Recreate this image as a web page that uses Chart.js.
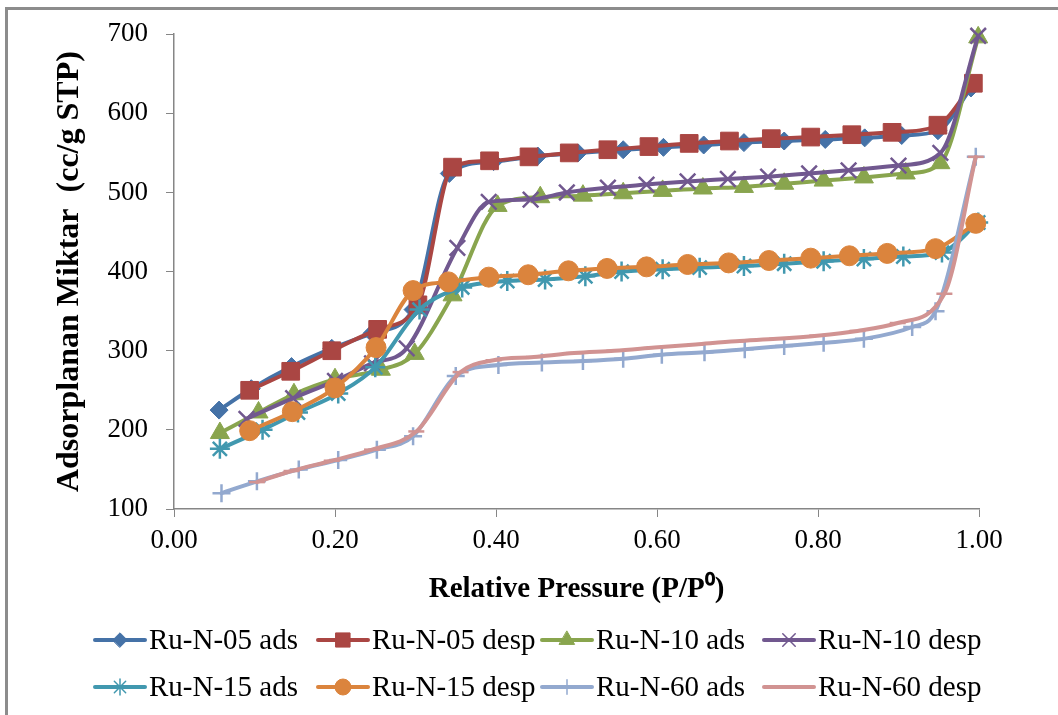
<!DOCTYPE html>
<html>
<head>
<meta charset="utf-8">
<title>Isotherms</title>
<script src="https://cdn.jsdelivr.net/npm/chart.js@4.4.0/dist/chart.umd.min.js"></script>
<style>
  html, body { margin: 0; padding: 0; background: #fff; }
  #wrap { position: relative; width: 1058px; height: 715px; overflow: hidden; }
  #frame { position: absolute; left: 5px; top: 7px; width: 1200px; height: 900px; border: 3px solid #8c8c8c; box-sizing: border-box; }
  #chart { position: absolute; left: 0; top: 0; }
</style>
</head>
<body>
<div id="wrap">
  <div id="frame"></div>
  <canvas id="chart" width="1058" height="715"></canvas>
</div>
<script>
// series values (x = P/P0, y = cc/g STP)
var x05ads = [0.056, 0.096, 0.146, 0.196, 0.246, 0.297, 0.342, 0.397, 0.452, 0.502, 0.558, 0.608, 0.658, 0.708, 0.758, 0.809, 0.858, 0.904, 0.949, 0.990];
var y05ads = [225, 252, 280, 303, 322, 352, 524, 539, 546, 550, 554, 557, 560, 563, 565, 567, 569, 572, 578, 632];
var x05desp = [0.094, 0.145, 0.196, 0.253, 0.303, 0.346, 0.392, 0.441, 0.491, 0.539, 0.590, 0.640, 0.690, 0.742, 0.791, 0.842, 0.892, 0.949, 0.993];
var y05desp = [250, 274, 300, 327, 358, 532, 540, 545, 550, 554, 558, 562, 565, 568, 570, 573, 576, 585, 638];
var x10ads = [0.057, 0.105, 0.149, 0.200, 0.257, 0.299, 0.346, 0.402, 0.455, 0.508, 0.558, 0.607, 0.657, 0.708, 0.758, 0.807, 0.857, 0.909, 0.952, 0.999];
var y10ads = [196, 222, 245, 264, 276, 296, 370, 483, 494, 496, 499, 502, 505, 507, 511, 515, 519, 524, 537, 696];
var x10desp = [0.090, 0.148, 0.200, 0.246, 0.289, 0.352, 0.391, 0.443, 0.488, 0.539, 0.587, 0.638, 0.688, 0.738, 0.789, 0.838, 0.900, 0.952, 0.999];
var y10desp = [214, 240, 262, 284, 303, 430, 488, 491, 500, 506, 510, 514, 517, 520, 524, 528, 534, 550, 698];
var x15ads = [0.057, 0.110, 0.154, 0.204, 0.250, 0.305, 0.358, 0.414, 0.461, 0.511, 0.556, 0.607, 0.653, 0.708, 0.758, 0.807, 0.857, 0.906, 0.954, 0.999];
var y15ads = [176, 200, 222, 246, 279, 352, 380, 388, 390, 394, 400, 403, 405, 407, 410, 413, 416, 419, 424, 462];
var x15desp = [0.094, 0.147, 0.200, 0.251, 0.297, 0.341, 0.391, 0.440, 0.490, 0.538, 0.587, 0.638, 0.689, 0.739, 0.791, 0.839, 0.886, 0.946, 0.996];
var y15desp = [199, 223, 253, 304, 376, 387, 393, 396, 401, 404, 406, 409, 411, 414, 417, 420, 423, 429, 461];
var x60ads = [0.059, 0.103, 0.155, 0.204, 0.252, 0.297, 0.350, 0.403, 0.457, 0.508, 0.558, 0.606, 0.659, 0.709, 0.758, 0.807, 0.857, 0.917, 0.946, 0.996];
var y60ads = [120, 135, 150, 162, 175, 192, 268, 282, 285, 287, 290, 295, 298, 302, 306, 310, 315, 330, 350, 545];
var x60desp = [0.103, 0.146, 0.196, 0.246, 0.301, 0.356, 0.397, 0.447, 0.497, 0.547, 0.597, 0.648, 0.698, 0.749, 0.799, 0.849, 0.899, 0.957, 0.996];
var y60desp = [134, 148, 161, 175, 198, 273, 288, 292, 297, 300, 304, 308, 312, 315, 319, 325, 335, 372, 545];

var names = ['Ru-N-05 ads', 'Ru-N-05 desp', 'Ru-N-10 ads', 'Ru-N-10 desp', 'Ru-N-15 ads', 'Ru-N-15 desp', 'Ru-N-60 ads', 'Ru-N-60 desp'];
var xs = [x05ads, x05desp, x10ads, x10desp, x15ads, x15desp, x60ads, x60desp];
var ys = [y05ads, y05desp, y10ads, y10desp, y15ads, y15desp, y60ads, y60desp];
var colors = ['#4572A7', '#AA4643', '#89A54E', '#71588F', '#4198AF', '#DB843D', '#93A9CF', '#D19392'];
var markers = ['rectRot', 'rect', 'triangle', 'crossRot', 'star', 'circle', 'cross', 'line'];
var radii = [9, 12.5, 11, 11, 10, 10, 9, 8];

var serif = "'Times New Roman', 'Liberation Serif', serif";

function points(xv, yv) {
  return xv.map(function(x, i) { return { x: x, y: yv[i] }; });
}

var datasets = names.map(function(name, i) {
  var stroked = ['crossRot', 'star', 'cross', 'line'].indexOf(markers[i]) >= 0;
  return {
    label: name,
    data: points(xs[i], ys[i]),
    showLine: true,
    borderColor: colors[i],
    backgroundColor: colors[i],
    borderWidth: 4,
    borderJoinStyle: 'round',
    borderCapStyle: 'round',
    cubicInterpolationMode: 'monotone',
    pointStyle: markers[i],
    pointRadius: radii[i],
    pointBackgroundColor: colors[i],
    pointBorderColor: colors[i],
    pointBorderWidth: stroked ? 2.5 : 1,
    clip: false,
    order: 8 - i
  };
});

// Excel-style legend: line with marker, two rows of four
var legendPlugin = {
  id: 'excelLegend',
  afterDraw: function(chart) {
    var ctx = chart.ctx;
    var cols = [95, 318, 542, 764];
    var rows = [640, 687];
    ctx.save();
    chart.data.datasets.forEach(function(ds, i) {
      var x = cols[i % 4], y = rows[Math.floor(i / 4)];
      ctx.strokeStyle = ds.borderColor;
      ctx.lineWidth = 4;
      ctx.lineCap = 'round';
      ctx.beginPath();
      ctx.moveTo(x, y);
      ctx.lineTo(x + 50, y);
      ctx.stroke();
      ctx.fillStyle = ds.pointBackgroundColor;
      ctx.strokeStyle = ds.pointBorderColor;
      ctx.lineWidth = ds.pointBorderWidth > 1 ? 1.5 : 1;
      if (Chart.helpers && Chart.helpers.drawPoint) {
        Chart.helpers.drawPoint(ctx, {
          pointStyle: ds.pointStyle,
          radius: ds.pointRadius * 0.8,
          borderWidth: ctx.lineWidth,
          rotation: 0
        }, x + 25, y);
      }
      ctx.fillStyle = '#000';
      ctx.font = '29px ' + serif;
      ctx.textBaseline = 'middle';
      ctx.textAlign = 'left';
      ctx.fillText(ds.label, x + 54, y + 1);
    });
    ctx.restore();
  }
};

var ctx = document.getElementById('chart').getContext('2d');
var isoChart = new Chart(ctx, {
  type: 'scatter',
  data: { datasets: datasets },
  options: {
    responsive: false,
    animation: false,
    layout: { padding: { left: 51, right: 79, top: 34, bottom: 108 } },
    plugins: {
      legend: { display: false },
      tooltip: { enabled: false }
    },
    scales: {
      x: {
        type: 'linear',
        min: 0,
        max: 1,
        afterFit: function(scale) { scale.height = 98; },
        ticks: {
          stepSize: 0.2,
          padding: 8,
          color: '#000',
          font: { family: serif, size: 27 },
          callback: function(v) { return Number(v).toFixed(2); }
        },
        grid: { drawOnChartArea: false, drawTicks: true, tickLength: 8, color: '#868686', lineWidth: 1 },
        border: { color: '#868686', width: 1.5 },
        title: {
          display: true,
          text: 'Relative Pressure (P/P\u2070)',
          color: '#000',
          padding: 0,
          font: { family: serif, size: 29, weight: 'bold' }
        }
      },
      y: {
        min: 100,
        max: 700,
        afterFit: function(scale) { scale.width = 123; },
        ticks: {
          stepSize: 100,
          padding: 18,
          color: '#000',
          font: { family: serif, size: 27 }
        },
        grid: { drawOnChartArea: false, drawTicks: true, tickLength: 8, color: '#868686', lineWidth: 1 },
        border: { color: '#868686', width: 1.5 },
        title: {
          display: true,
          text: 'Adsorplanan Miktar  (cc/g STP)',
          color: '#000',
          padding: 0,
          font: { family: serif, size: 32, weight: 'bold' }
        }
      }
    }
  },
  plugins: [legendPlugin]
});
</script>
</body>
</html>
